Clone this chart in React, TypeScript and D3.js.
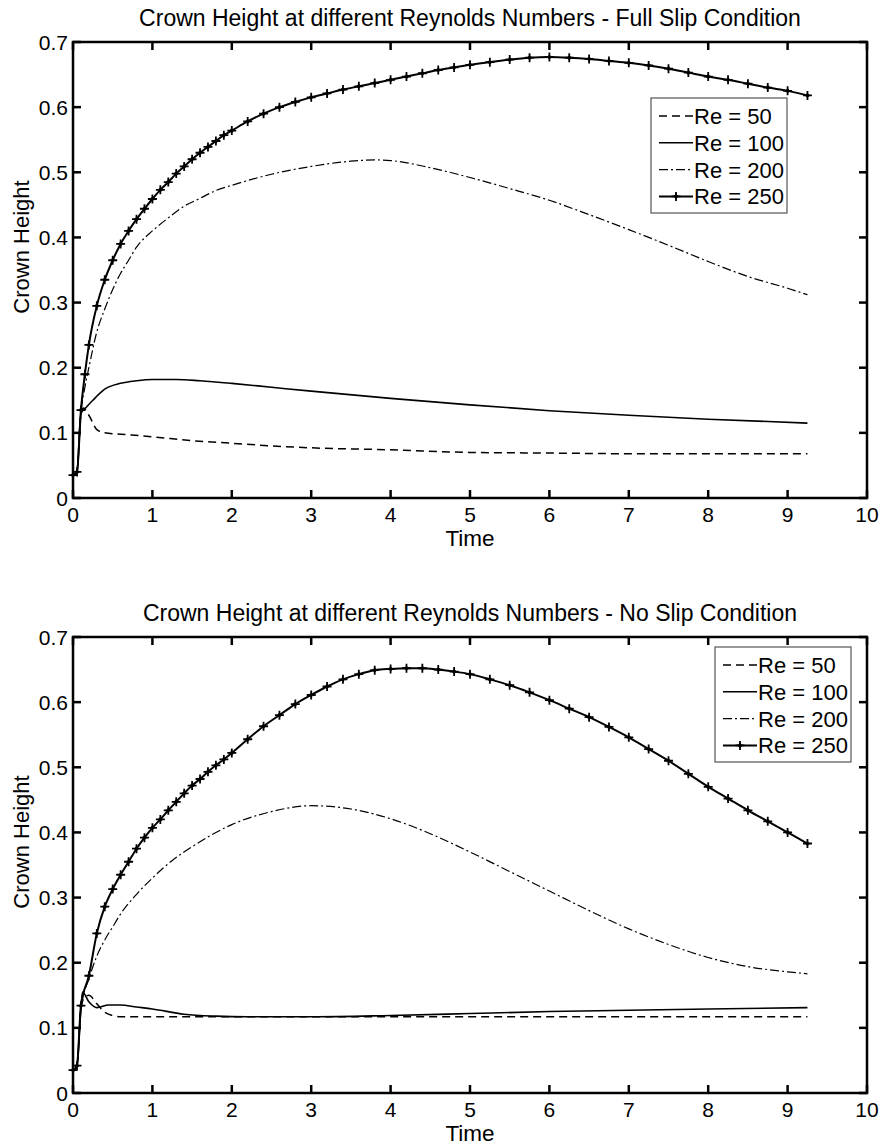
import React from 'react';
import * as d3 from 'd3';

const xTicks = [0, 1, 2, 3, 4, 5, 6, 7, 8, 9, 10];
const yTicks = [0, 0.1, 0.2, 0.3, 0.4, 0.5, 0.6, 0.7];
const seriesNames = ['Re = 50', 'Re = 100', 'Re = 200', 'Re = 250'];
const titles = [
  'Crown Height at different Reynolds Numbers - Full Slip Condition',
  'Crown Height at different Reynolds Numbers - No Slip Condition',
];

// ---- Full slip ----
const fsT50 = [0, 0.05, 0.1, 0.13, 0.2, 0.3, 0.4, 0.6, 1.0, 1.5, 2.0, 2.5, 3, 4, 5, 6, 7, 8, 9.25];
const fsV50 = [0.035, 0.04, 0.13, 0.138, 0.127, 0.105, 0.1, 0.098, 0.094, 0.088, 0.084, 0.08, 0.077, 0.074, 0.07, 0.069, 0.068, 0.068, 0.068];
const fsT100 = [0, 0.05, 0.1, 0.15, 0.25, 0.4, 0.6, 0.8, 1.0, 1.3, 1.6, 2.0, 2.5, 3, 4, 5, 6, 7, 8, 9.25];
const fsV100 = [0.035, 0.04, 0.13, 0.137, 0.15, 0.167, 0.176, 0.18, 0.182, 0.182, 0.18, 0.176, 0.17, 0.164, 0.153, 0.143, 0.134, 0.127, 0.121, 0.115];
const fsT200 = [0, 0.05, 0.1, 0.15, 0.2, 0.3, 0.4, 0.5, 0.6, 0.7, 0.8, 1.0, 1.2, 1.4, 1.6, 1.8, 2.0, 2.5, 3.0, 3.5, 3.8, 4.0, 4.5, 5.0, 5.5, 6.0, 6.5, 7.0, 7.5, 8.0, 8.5, 9.0, 9.25];
const fsV200 = [0.035, 0.04, 0.13, 0.17, 0.2, 0.255, 0.29, 0.32, 0.345, 0.365, 0.385, 0.41, 0.43, 0.448, 0.46, 0.472, 0.48, 0.497, 0.509, 0.517, 0.519, 0.518, 0.507, 0.492, 0.475, 0.457, 0.435, 0.412, 0.388, 0.363, 0.34, 0.322, 0.312];
const fsT250 = [0, 0.05, 0.1, 0.15, 0.2, 0.3, 0.4, 0.5, 0.6, 0.7, 0.8, 0.9, 1.0, 1.1, 1.2, 1.3, 1.4, 1.5, 1.6, 1.7, 1.8, 1.9, 2.0, 2.2, 2.4, 2.6, 2.8, 3.0, 3.2, 3.4, 3.6, 3.8, 4.0, 4.2, 4.4, 4.6, 4.8, 5.0, 5.25, 5.5, 5.75, 6.0, 6.25, 6.5, 6.75, 7.0, 7.25, 7.5, 7.75, 8.0, 8.25, 8.5, 8.75, 9.0, 9.25];
const fsV250 = [0.035, 0.04, 0.135, 0.19, 0.235, 0.295, 0.335, 0.365, 0.39, 0.41, 0.428, 0.444, 0.459, 0.473, 0.485, 0.498, 0.509, 0.52, 0.53, 0.539, 0.548, 0.557, 0.564, 0.578, 0.59, 0.6, 0.608, 0.615, 0.621, 0.627, 0.632, 0.637, 0.642, 0.647, 0.652, 0.657, 0.661, 0.665, 0.669, 0.673, 0.676, 0.677, 0.676, 0.674, 0.671, 0.668, 0.664, 0.659, 0.653, 0.647, 0.642, 0.636, 0.63, 0.625, 0.618];

// ---- No slip ----
const nsT50 = [0, 0.05, 0.1, 0.15, 0.2, 0.3, 0.4, 0.5, 0.6, 1, 2, 3, 4, 5, 6, 7, 8, 9.25];
const nsV50 = [0.035, 0.042, 0.13, 0.148, 0.15, 0.137, 0.124, 0.119, 0.117, 0.117, 0.117, 0.117, 0.117, 0.117, 0.117, 0.117, 0.117, 0.117];
const nsT100 = [0, 0.05, 0.1, 0.12, 0.2, 0.3, 0.45, 0.6, 0.8, 1.0, 1.4, 1.8, 2.2, 3, 4, 5, 6, 7, 8, 9.25];
const nsV100 = [0.035, 0.042, 0.13, 0.155, 0.14, 0.131, 0.135, 0.135, 0.132, 0.129, 0.121, 0.118, 0.117, 0.117, 0.119, 0.122, 0.125, 0.127, 0.129, 0.131];
const nsT200 = [0, 0.05, 0.1, 0.2, 0.3, 0.4, 0.5, 0.6, 0.8, 1.0, 1.25, 1.5, 2.0, 2.5, 3.0, 3.5, 4.0, 4.5, 5.0, 5.5, 6.0, 6.5, 7.0, 7.5, 8.0, 8.5, 9.0, 9.25];
const nsV200 = [0.035, 0.042, 0.13, 0.175, 0.21, 0.235, 0.255, 0.275, 0.305, 0.33, 0.357, 0.378, 0.412, 0.432, 0.441, 0.436, 0.421, 0.398, 0.37, 0.34, 0.31, 0.28, 0.252, 0.228, 0.208, 0.194, 0.186, 0.183];
const nsT250 = [0, 0.05, 0.1, 0.2, 0.3, 0.4, 0.5, 0.6, 0.7, 0.8, 0.9, 1.0, 1.1, 1.2, 1.3, 1.4, 1.5, 1.6, 1.7, 1.8, 1.9, 2.0, 2.2, 2.4, 2.6, 2.8, 3.0, 3.2, 3.4, 3.6, 3.8, 4.0, 4.2, 4.4, 4.6, 4.8, 5.0, 5.25, 5.5, 5.75, 6.0, 6.25, 6.5, 6.75, 7.0, 7.25, 7.5, 7.75, 8.0, 8.25, 8.5, 8.75, 9.0, 9.25];
const nsV250 = [0.035, 0.042, 0.134, 0.18, 0.245, 0.286, 0.313, 0.335, 0.355, 0.375, 0.392, 0.407, 0.42, 0.434, 0.447, 0.46, 0.472, 0.482, 0.493, 0.503, 0.512, 0.522, 0.543, 0.563, 0.58, 0.597, 0.611, 0.624, 0.635, 0.643, 0.649, 0.651, 0.652, 0.652, 0.65, 0.647, 0.643, 0.635, 0.626, 0.615, 0.603, 0.59, 0.577, 0.562, 0.546, 0.528, 0.51, 0.49, 0.47, 0.452, 0.434, 0.417, 0.4, 0.383];

type Pt = [number, number];
const zip = (t: number[], v: number[]): Pt[] => t.map((d, i) => [d, v[i]]);

const panels = [
  { title: titles[0], series: [zip(fsT50, fsV50), zip(fsT100, fsV100), zip(fsT200, fsV200), zip(fsT250, fsV250)], legend: { x: 651, y: 98 } },
  { title: titles[1], series: [zip(nsT50, nsV50), zip(nsT100, nsV100), zip(nsT200, nsV200), zip(nsT250, nsV250)], legend: { x: 715, y: 647 - 595 } },
];

const styles = [
  { dash: '8,5', width: 1.5 },
  { dash: null, width: 1.6 },
  { dash: '9,3,2,3', width: 1.2 },
  { dash: null, width: 2 },
];

const FONT = '"Liberation Sans", Arial, Helvetica, sans-serif';

const L = 73, R = 867, T = 42, B = 498;
const x = d3.scaleLinear().domain([0, 10]).range([L, R]);
const y = d3.scaleLinear().domain([0, 0.7]).range([B, T]);

const Marker = ({ cx, cy }: { cx: number; cy: number }) => (
  <g transform={`translate(${cx},${cy})`}>
    <path d="M-4.5,0H4.5M0,-4.5V4.5" stroke="#000" strokeWidth={1.8} />
    <path d="M0,-2.6L2.6,0L0,2.6L-2.6,0Z" fill="#000" />
  </g>
);

const Panel = ({ p, dy }: { p: typeof panels[0]; dy: number }) => {
  const line = d3.line<Pt>().x(d => x(d[0])).y(d => y(d[1])).curve(d3.curveMonotoneX);
  const fmt = (v: number) => (v === 0 ? '0' : d3.format('.1f')(v));
  const lx = p.legend.x, ly = p.legend.y;
  return (
    <g transform={`translate(0,${dy})`} fontFamily={FONT} fontSize={21}>
      <text x={(L + R) / 2} y={T - 16} textAnchor="middle" fontSize={23}>{p.title}</text>
      {p.series.map((s, i) => (
        <path key={i} d={line(s) || ''} fill="none" stroke="#000" strokeWidth={styles[i].width}
          strokeDasharray={styles[i].dash || undefined} />
      ))}
      {p.series[3].map((d, i) => <Marker key={i} cx={x(d[0])} cy={y(d[1])} />)}
      <rect x={L} y={T} width={R - L} height={B - T} fill="none" stroke="#000" strokeWidth={2.5} />
      {xTicks.map(t => (
        <g key={t}>
          <line x1={x(t)} x2={x(t)} y1={B} y2={B - 8} stroke="#000" strokeWidth={2.5} />
          <line x1={x(t)} x2={x(t)} y1={T} y2={T + 8} stroke="#000" strokeWidth={2.5} />
          <text x={x(t)} y={B + 24} textAnchor="middle">{t}</text>
        </g>
      ))}
      {yTicks.map(t => (
        <g key={t}>
          <line x1={L} x2={L + 8} y1={y(t)} y2={y(t)} stroke="#000" strokeWidth={2.5} />
          <line x1={R} x2={R - 8} y1={y(t)} y2={y(t)} stroke="#000" strokeWidth={2.5} />
          <text x={L - 5} y={y(t) + 7.5} textAnchor="end">{fmt(t)}</text>
        </g>
      ))}
      <text x={(L + R) / 2} y={B + 48} textAnchor="middle" fontSize={22.5}>Time</text>
      <text transform={`translate(29,${247}) rotate(-90)`} textAnchor="middle" fontSize={22}>Crown Height</text>
      <g fontSize={22}>
        <rect x={lx} y={ly} width={136} height={115} fill="#fff" stroke="#555" strokeWidth={1.2} />
        {seriesNames.map((n, i) => {
          const cy = ly + 18 + i * 26.8;
          return (
            <g key={n}>
              <line x1={lx + 8} x2={lx + 42} y1={cy} y2={cy} stroke="#000" strokeWidth={styles[i].width}
                strokeDasharray={styles[i].dash || undefined} />
              {i === 3 && <Marker cx={lx + 25} cy={cy} />}
              <text x={lx + 43} y={cy + 8}>{n}</text>
            </g>
          );
        })}
      </g>
    </g>
  );
};

export default function App() {
  return (
    <svg width={883} height={1145} style={{ position: 'absolute', left: 0, top: 0, background: '#fff' }}>
      <rect width={883} height={1145} fill="#fff" />
      <Panel p={panels[0]} dy={0} />
      <Panel p={panels[1]} dy={595} />
    </svg>
  );
}
